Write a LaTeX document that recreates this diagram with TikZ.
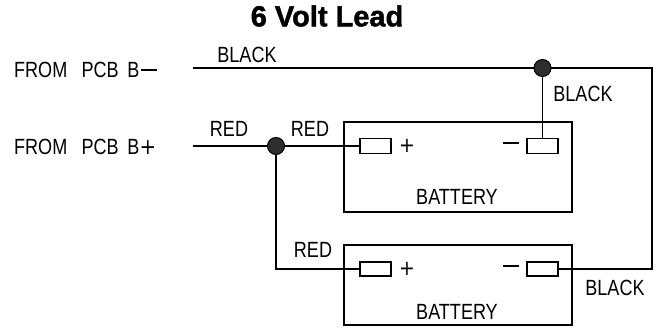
\documentclass[tikz,border=0pt]{standalone}
\usepackage{fontspec}
\setmainfont{Liberation Sans}[FakeStretch=0.82]
\newfontfamily\titlefont{Liberation Sans}[FakeBold=1.5]
\newfontfamily\symfont{DejaVu Sans}[FakeStretch=0.9]
\newcommand{\minussign}{\rule[0.3em]{0.75em}{2pt}}
\begin{document}
\begin{tikzpicture}[x=1pt,y=-1pt,
  wire/.style={line width=1.7pt},
  lbl/.style={font=\fontsize{22}{24}\selectfont, inner sep=0pt},
  sym/.style={font=\symfont\fontsize{21}{23}\selectfont, inner sep=0pt},
  term/.style={draw, line width=1.6pt, minimum width=31pt, minimum height=15pt, inner sep=0pt},
  batt/.style={draw, line width=1.6pt, minimum width=228pt, inner sep=0pt},
  dot/.style={circle, draw=black, fill=black!82, line width=1pt, minimum size=17pt, inner sep=0pt}]
\useasboundingbox (0,0) rectangle (658,335);
% title
\node[font=\titlefont\bfseries\fontsize{29}{31}\selectfont, inner sep=0pt] (title) at (327,16) {6 Volt Lead};
% batteries
\node[batt, minimum height=90pt] (b1) at (458,167) {};
\node[batt, minimum height=80pt] (b2) at (458,285) {};
% terminals
\node[term] (p1) at (375.5,146) {};
\node[term] (m1) at (542.5,146) {};
\node[term, minimum height=14pt] (p2) at (375.5,269) {};
\node[term, minimum height=14pt] (m2) at (542.5,269) {};
% coordinates
\coordinate (bm) at (193,68);
\coordinate (bp) at (193,146);
\coordinate (d1) at (542.5,68);
\coordinate (d2) at (276,146);
\coordinate (cr) at (652,68);
% wires
\draw[wire] (bm) -- (d1) -- (cr) |- (m2.east);
\draw[wire] (d1) -- (m1.north);
\draw[wire] (bp) -- (d2) -- (p1.west);
\draw[wire] (d2) |- (p2.west);
% junction dots
\node[dot] (j1) at (d1) {};
\node[dot] (j2) at (d2) {};
% signs
\node[sym] (pl1) at (407,146) {+};
\node[lbl] (mi1) at (511,146) {\minussign};
\node[sym] (pl2) at (407,269) {+};
\node[lbl] (mi2) at (511,269) {\minussign};
% battery labels
\node[lbl] (bl1) at (457,197) {BATTERY};
\node[lbl] (bl2) at (457,312) {BATTERY};
% left labels
\node[lbl, anchor=west] (fm) at (14,70) {FROM\hspace{0.65em}PCB\hspace{0.4em}B\hspace{0.05em}\minussign};
\node[lbl, anchor=west] (fp) at (14,147) {FROM\hspace{0.65em}PCB\hspace{0.4em}B{\symfont +}};
% wire labels
\node[lbl] (k1) at (247,55) {BLACK};
\node[lbl] (r1) at (229,129) {RED};
\node[lbl] (r2) at (310,129) {RED};
\node[lbl] (r3) at (313,250) {RED};
\node[lbl] (k2) at (583,94) {BLACK};
\node[lbl] (k3) at (615,288) {BLACK};
\end{tikzpicture}
\end{document}
